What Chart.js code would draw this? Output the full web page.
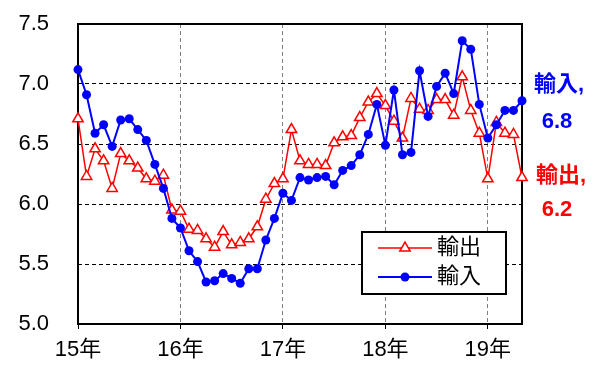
<!DOCTYPE html>
<html>
<head>
  <meta charset="utf-8">
  <title>輸出・輸入</title>
  <script src="https://cdn.jsdelivr.net/npm/chart.js"></script>
  <style>
    body { margin: 0; background: #fff; }
    #wrap { width: 597px; height: 365px; }
  </style>
</head>
<body>
  <div id="wrap"><canvas id="tradeChart"></canvas></div>

  <script>
    // monthly values, Jan 2015 .. May 2019
    const yearLabels = ['15年', '16年', '17年', '18年', '19年'];
    const exportVals = [
      6.71, 6.23, 6.46, 6.36, 6.13, 6.42, 6.36, 6.30, 6.21, 6.19, 6.24, 5.95,
      5.94, 5.79, 5.78, 5.71, 5.64, 5.77, 5.66, 5.68, 5.71, 5.81, 6.04, 6.17,
      6.21, 6.62, 6.36, 6.33, 6.33, 6.32, 6.51, 6.56, 6.57, 6.72, 6.85, 6.92,
      6.82, 6.69, 6.55, 6.88, 6.79, 6.78, 6.87, 6.87, 6.74, 7.06, 6.78, 6.59,
      6.21, 6.68, 6.59, 6.58, 6.22
    ];
    const importVals = [
      7.12, 6.91, 6.59, 6.66, 6.48, 6.70, 6.71, 6.62, 6.53, 6.33, 6.13, 5.88,
      5.80, 5.61, 5.52, 5.35, 5.36, 5.42, 5.38, 5.34, 5.46, 5.46, 5.70, 5.88,
      6.09, 6.03, 6.22, 6.20, 6.22, 6.23, 6.16, 6.28, 6.32, 6.41, 6.58, 6.83,
      6.49, 6.95, 6.41, 6.43, 7.11, 6.73, 6.98, 7.09, 6.92, 7.36, 7.29, 6.83,
      6.55, 6.66, 6.78, 6.78, 6.86
    ];
    const seriesNames = ['輸出', '輸入'];
    const lastLabels = ['6.2', '6.8'];

    const RED = '#ff0000';
    const BLUE = '#0000ff';
    const FONT = "'Liberation Sans', 'Noto Sans CJK JP', sans-serif";

    Chart.defaults.font.family = FONT;
    Chart.defaults.font.size = 22;
    Chart.defaults.color = '#000';

    function toPoints(vals) {
      return vals.map((v, i) => ({ x: i, y: v }));
    }

    function triangle(ctx, x, y, r) {
      ctx.beginPath();
      ctx.moveTo(x, y - r);
      ctx.lineTo(x + r * 0.866, y + r * 0.5);
      ctx.lineTo(x - r * 0.866, y + r * 0.5);
      ctx.closePath();
      ctx.fill();
      ctx.stroke();
    }

    const extras = {
      id: 'extras',
      beforeDatasetsDraw(chart) {
        const { ctx, chartArea: a } = chart;
        ctx.save();
        ctx.strokeStyle = '#000';
        ctx.lineWidth = 2;
        ctx.strokeRect(a.left, a.top, a.right - a.left, a.bottom - a.top);
        ctx.restore();
      },
      afterDraw(chart) {
        const { ctx, chartArea: a } = chart;
        ctx.save();

        // legend box
        const lx = 362, ly = 232, lw = 144, lh = 62;
        ctx.fillStyle = '#fff';
        ctx.fillRect(lx, ly, lw, lh);
        ctx.strokeStyle = '#000';
        ctx.lineWidth = 2;
        ctx.strokeRect(lx, ly, lw, lh);

        const rows = [ly + 16, ly + 45];
        ctx.lineWidth = 1.5;
        ctx.strokeStyle = RED;
        ctx.beginPath();
        ctx.moveTo(lx + 16, rows[0]);
        ctx.lineTo(lx + 70, rows[0]);
        ctx.stroke();
        ctx.fillStyle = '#fff';
        triangle(ctx, lx + 43, rows[0], 6);

        ctx.lineWidth = 2;
        ctx.strokeStyle = BLUE;
        ctx.beginPath();
        ctx.moveTo(lx + 16, rows[1]);
        ctx.lineTo(lx + 70, rows[1]);
        ctx.stroke();
        ctx.fillStyle = BLUE;
        ctx.beginPath();
        ctx.arc(lx + 43, rows[1], 4.5, 0, Math.PI * 2);
        ctx.fill();

        ctx.fillStyle = '#000';
        ctx.font = '22px ' + FONT;
        ctx.textAlign = 'left';
        ctx.textBaseline = 'middle';
        ctx.fillText(seriesNames[0], lx + 75, rows[0]);
        ctx.fillText(seriesNames[1], lx + 75, rows[1]);

        // end labels on the right
        ctx.font = 'bold 22px ' + FONT;
        ctx.textAlign = 'center';
        const cx = a.right + 37;
        ctx.fillStyle = BLUE;
        ctx.fillText(seriesNames[1] + ',', cx, 85);
        ctx.fillText(lastLabels[1], cx - 2, 122);
        ctx.fillStyle = RED;
        ctx.fillText(seriesNames[0] + ',', cx + 2, 176);
        ctx.fillText(lastLabels[0], cx - 2, 210);

        ctx.restore();
      }
    };

    const ctx = document.getElementById('tradeChart').getContext('2d');
    new Chart(ctx, {
      type: 'line',
      data: {
        datasets: [
          {
            label: seriesNames[1],
            data: toPoints(importVals),
            borderColor: BLUE,
            borderWidth: 2,
            backgroundColor: BLUE,
            pointStyle: 'circle',
            pointRadius: 4.5,
            pointBorderWidth: 0,
            pointBackgroundColor: BLUE,
            tension: 0,
            clip: false
          },
          {
            label: seriesNames[0],
            data: toPoints(exportVals),
            borderColor: RED,
            borderWidth: 1.5,
            pointStyle: 'triangle',
            pointRadius: 6,
            pointBorderWidth: 1.5,
            pointBorderColor: RED,
            pointBackgroundColor: '#fff',
            tension: 0,
            clip: false
          }
        ]
      },
      options: {
        responsive: true,
        maintainAspectRatio: false,
        animation: false,
        devicePixelRatio: 1,
        layout: { padding: { left: 0, right: 75, top: 24, bottom: 0 } },
        plugins: {
          legend: { display: false },
          tooltip: { enabled: false }
        },
        scales: {
          x: {
            type: 'linear',
            min: 0,
            max: importVals.length - 1,
            afterFit: s => {
              s.height = 41;
              s.paddingLeft = 0;
              s.paddingRight = 0;
            },
            afterBuildTicks: s => {
              s.ticks = yearLabels.map((_, i) => ({ value: i * 12 }));
            },
            ticks: {
              autoSkip: false,
              padding: 8,
              maxRotation: 0,
              callback: v => yearLabels[v / 12]
            },
            grid: {
              color: '#808080',
              borderDash: [4, 3],
              tickLength: 5,
              tickColor: '#000',
              tickBorderDash: []
            },
            border: { display: false, dash: [4, 3] }
          },
          y: {
            min: 5,
            max: 7.5,
            afterFit: s => {
              s.width = 78;
              s.paddingTop = 0;
              s.paddingBottom = 0;
            },
            ticks: {
              stepSize: 0.5,
              padding: 29,
              callback: v => v.toFixed(1)
            },
            grid: {
              color: '#000',
              drawTicks: false
            },
            border: { display: false, dash: [4, 3] }
          }
        }
      },
      plugins: [extras]
    });
  </script>
</body>
</html>
